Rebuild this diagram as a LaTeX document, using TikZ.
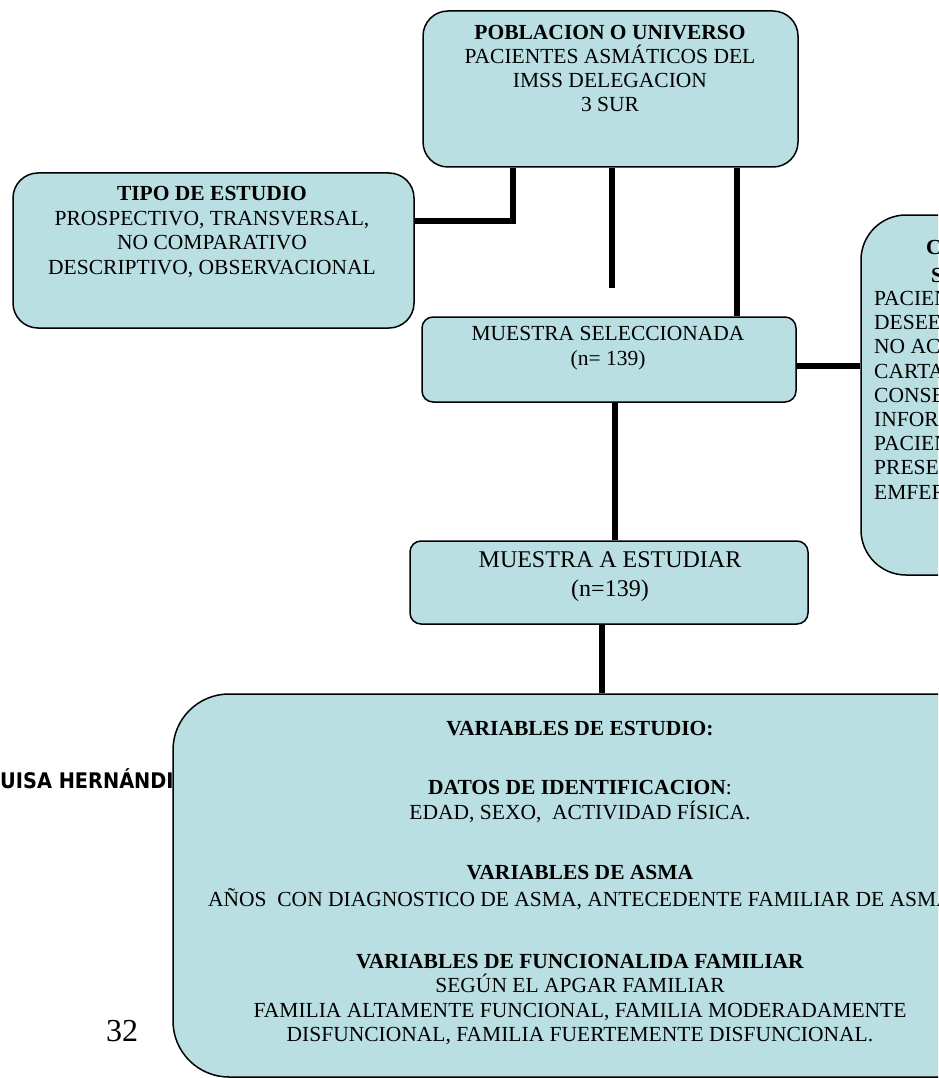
\documentclass[tikz,border=0pt]{standalone}
\usepackage{graphicx}
\usepackage{fontspec}
\setmainfont{Liberation Serif}
\newfontfamily\sansbold{DejaVu Sans}
\definecolor{boxfill}{RGB}{186,223,227}
\tikzset{
  box/.style={draw=black, line width=1.5pt, fill=boxfill, rectangle, inner sep=0pt},
  link/.style={line width=5.5pt, black},
  txt/.style={inner sep=0pt, align=center, font=\fontsize{21.5}{24}\selectfont},
}
\begin{document}
\begin{tikzpicture}[x=1pt,y=-1pt]
\useasboundingbox (0,0) rectangle (938,1078);
\clip (0,0) rectangle (938,1078);

% page margin text behind the big box
\node[inner sep=0pt, anchor=base west, font=\sansbold\bfseries\fontsize{21.5}{24}\selectfont] (author) at (0,788) {\scalebox{0.9}[1]{UISA HERNÁNDI}};
\node[inner sep=0pt, font=\fontsize{32}{36}\selectfont] (page) at (122,1031) {32};

% coordinates for connectors
\coordinate (j1) at (513,221);
\coordinate (m1) at (612,288);
\coordinate (c3) at (737,0);
\coordinate (c4) at (0,366);
\coordinate (c5) at (615,0);
\coordinate (c6) at (602,0);

% boxes
\node[box, rounded corners=25pt, minimum width=375pt, minimum height=156pt] (pob) at (610.5,89) {};
\node[box, rounded corners=25pt, minimum width=401pt, minimum height=155pt] (tipo) at (213.5,250.5) {};
\node[box, rounded corners=11pt, minimum width=374pt, minimum height=85pt] (sel) at (609,359.5) {};
\node[box, rounded corners=45pt, minimum width=200pt, minimum height=360pt] (crit) at (961,395) {};
\node[box, rounded corners=11pt, minimum width=398pt, minimum height=83pt] (est) at (609,582.5) {};

% connectors
\draw[link] (pob.south -| j1) |- (tipo.east |- j1);
\draw[link] (pob.south -| m1) -- (m1);
\draw[link] (pob.south -| c3) -- (sel.north -| c3);
\draw[link] (sel.east |- c4) -- (crit.west |- c4);
\draw[link] (sel.south -| c5) -- (est.north -| c5);

\node[box, rounded corners=56pt, minimum width=900pt, minimum height=383pt] (vars) at (623,885.5) {};
\draw[link] (est.south -| c6) -- (vars.north -| c6);

% texts
\node[txt, anchor=north] (pobt) at (610,25) {\textbf{POBLACION O UNIVERSO}\\PACIENTES ASMÁTICOS DEL\\IMSS DELEGACION\\3 SUR};
\node[txt, anchor=north, font=\fontsize{21.5}{24.6}\selectfont] (tipot) at (212,186) {\textbf{TIPO DE ESTUDIO}\\PROSPECTIVO, TRANSVERSAL,\\NO COMPARATIVO\\DESCRIPTIVO, OBSERVACIONAL};
\node[txt, anchor=north, font=\fontsize{21.5}{25}\selectfont] (selt) at (608,326) {MUESTRA SELECCIONADA\\(n= 139)};
\node[txt, anchor=north, font=\fontsize{24}{29}\selectfont] (estt) at (610,551) {MUESTRA A ESTUDIAR\\(n=139)};
\node[txt, anchor=west, font=\bfseries\fontsize{21.5}{24}\selectfont] (critc) at (926,247) {C};
\node[txt, anchor=west, font=\bfseries\fontsize{21.5}{24}\selectfont] (crits) at (931,275) {S};
\node[txt, anchor=north west, align=left, font=\fontsize{21.5}{24.2}\selectfont] (critt) at (874,291) {PACIEN\\DESEE\\NO AC\\CARTA\\CONSE\\INFOR\\PACIEN\\PRESE\\EMFER};
\node[txt, anchor=north, font=\fontsize{21.5}{24.3}\selectfont] (varst) at (580,721) {%
\textbf{VARIABLES DE ESTUDIO:}\\[35pt]
\textbf{DATOS DE IDENTIFICACION}:\\
EDAD, SEXO,\ \ ACTIVIDAD FÍSICA.\\[36.5pt]
\textbf{VARIABLES DE ASMA}\\[2.5pt]
AÑOS\ \ CON DIAGNOSTICO DE ASMA, ANTECEDENTE FAMILIAR DE ASMA\\[37.5pt]
\textbf{VARIABLES DE FUNCIONALIDA FAMILIAR}\\
SEGÚN EL APGAR FAMILIAR\\
FAMILIA ALTAMENTE FUNCIONAL, FAMILIA MODERADAMENTE\\
DISFUNCIONAL, FAMILIA FUERTEMENTE DISFUNCIONAL.};
\end{tikzpicture}
\end{document}
